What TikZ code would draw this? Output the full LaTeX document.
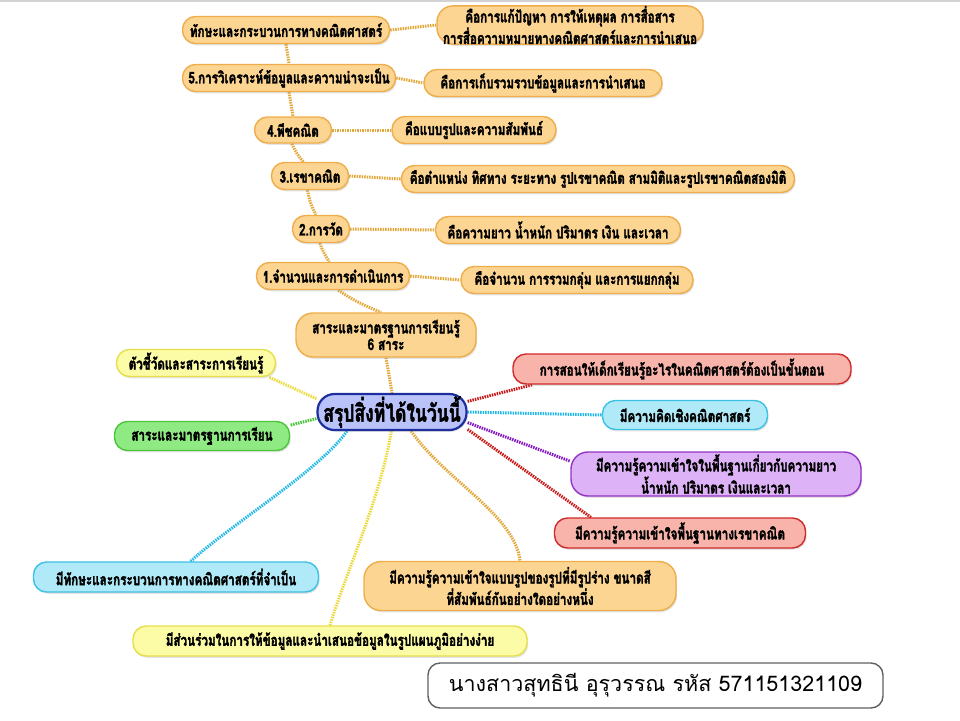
\documentclass[tikz,border=0pt]{standalone}
\usepackage{fontspec}
\newfontfamily\thaifont[Script=Thai]{Loma}
\newfontfamily\thaibold[Script=Thai,FakeStretch=0.73,FakeBold=2]{Loma}
\usetikzlibrary{shadows,backgrounds}
\definecolor{ofill}{HTML}{FCD592}
\definecolor{oline}{HTML}{EEAD4A}
\definecolor{olink}{HTML}{E2A83A}
\definecolor{yfill}{HTML}{FCFBA6}
\definecolor{yline}{HTML}{E6DF4C}
\definecolor{ylink}{HTML}{EADB3E}
\definecolor{gfill}{HTML}{90EA84}
\definecolor{gline}{HTML}{4CC43C}
\definecolor{glink}{HTML}{48C438}
\definecolor{cfill}{HTML}{B0EAF8}
\definecolor{cline}{HTML}{3CC0E4}
\definecolor{clink}{HTML}{22B8E8}
\definecolor{rfill}{HTML}{F8B4AA}
\definecolor{rline}{HTML}{D02A2A}
\definecolor{rlink}{HTML}{C81818}
\definecolor{pfill}{HTML}{DDB2F6}
\definecolor{pline}{HTML}{9234C4}
\definecolor{plink}{HTML}{8418C0}
\definecolor{bfill}{HTML}{B9C3FA}
\definecolor{bline}{HTML}{1E2E9E}
\newcommand\thaib{\thaibold\bfseries\fontsize{16}{15}\selectfont}
\newcommand\thaic{\thaibold\bfseries\fontsize{24}{24}\selectfont}
\newcommand\thaifoot{\thaifont\fontsize{21.5}{24}\selectfont}
\tikzset{
 box/.style={rounded corners=13pt, line width=1.4pt, inner sep=0pt, align=center, font=\thaib,
   drop shadow={shadow xshift=1.2pt, shadow yshift=-1.8pt, opacity=0.22}},
 ob/.style={box, draw=oline, fill=ofill},
 yb/.style={box, draw=yline, fill=yfill},
 gb/.style={box, draw=gline, fill=gfill},
 cb/.style={box, draw=cline, fill=cfill},
 rb/.style={box, draw=rline, fill=rfill},
 pb/.style={box, draw=pline, fill=pfill},
 bb/.style={box, draw=bline, fill=bfill, font=\thaic, line width=2.2pt, rounded corners=17pt},
 footbox/.style={draw=gray!75!black, line width=1.4pt, rounded corners=12pt, fill=white, font=\thaifoot, inner sep=0pt},
 link/.style={line width=3pt, dash pattern=on 1.5pt off 1pt},
}
\begin{document}
\begin{tikzpicture}[x=1pt,y=-1pt]
\useasboundingbox (0,0) rectangle (960,720);
\fill[gray!35] (0,0) rectangle (960,2);
% orange chain
\node[ob, minimum width=207, minimum height=27] (n6) at (286,30) {ทักษะและกระบวนการทางคณิตศาสตร์};
\node[ob, minimum width=266, minimum height=38, rounded corners=16pt] (d6) at (570,25) {คือการแก้ปัญหา การให้เหตุผล การสื่อสาร\\การสื่อความหมายทางคณิตศาสตร์และการนำเสนอ};
\node[ob, minimum width=213, minimum height=27] (n5) at (289,78) {5.การวิเคราะห์ข้อมูลและความน่าจะเป็น};
\node[ob, minimum width=238, minimum height=27] (d5) at (543,83) {คือการเก็บรวมรวบข้อมูลและการนำเสนอ};
\node[ob, minimum width=77, minimum height=26] (n4) at (293,130) {4.พีชคณิต};
\node[ob, minimum width=164, minimum height=27] (d4) at (474,130) {คือแบบรูปและความสัมพันธ์};
\node[ob, minimum width=77, minimum height=27] (n3) at (310,176) {3.เรขาคณิต};
\node[ob, minimum width=393, minimum height=27] (d3) at (598,179) {คือตำแหน่ง ทิศทาง ระยะทาง รูปเรขาคณิต สามมิติและรูปเรขาคณิตสองมิติ};
\node[ob, minimum width=57, minimum height=27] (n2) at (321,229) {2.การวัด};
\node[ob, minimum width=245, minimum height=27] (d2) at (558,230) {คือความยาว น้ำหนัก ปริมาตร เงิน และเวลา};
\node[ob, minimum width=153, minimum height=27] (n1) at (333,276) {1.จำนวนและการดำเนินการ};
\node[ob, minimum width=232, minimum height=27] (d1) at (577,280) {คือจำนวน การรวมกลุ่ม และการแยกกลุ่ม};
\node[ob, minimum width=180, minimum height=44, rounded corners=17pt] (s6) at (386,335) {สาระและมาตรฐานการเรียนรู้\\6 สาระ};
% centre
\node[bb, minimum width=149, minimum height=36] (ctr) at (392,412) {สรุปสิ่งที่ได้ในวันนี้};
% left
\node[yb, minimum width=159, minimum height=27] (y1) at (196,363) {ตัวชี้วัดและสาระการเรียนรู้};
\node[gb, minimum width=175, minimum height=29] (g1) at (202,436) {สาระและมาตรฐานการเรียน};
\node[cb, minimum width=285, minimum height=30] (c1) at (176,577) {มีทักษะและกระบวนการทางคณิตศาสตร์ที่จำเป็น};
\node[yb, minimum width=394, minimum height=30] (y2) at (330,641) {มีส่วนร่วมในการให้ข้อมูลและนำเสนอข้อมูลในรูปแผนภูมิอย่างง่าย};
\node[ob, minimum width=312, minimum height=49, rounded corners=17pt] (o2) at (520,586) {มีความรู้ความเข้าใจแบบรูปของรูปที่มีรูปร่าง ขนาดสี\\ที่สัมพันธ์กันอย่างใดอย่างหนึ่ง};
% right
\node[rb, minimum width=338, minimum height=30] (r1) at (682,369) {การสอนให้เด็กเรียนรู้อะไรในคณิตศาสตร์ต้องเป็นขั้นตอน};
\node[cb, minimum width=165, minimum height=29] (c2) at (685,415) {มีความคิดเชิงคณิตศาสตร์};
\node[pb, minimum width=290, minimum height=44, rounded corners=17pt] (p1) at (716,474) {มีความรู้ความเข้าใจในพื้นฐานเกี่ยวกับความยาว\\น้ำหนัก ปริมาตร เงินและเวลา};
\node[rb, minimum width=251, minimum height=30] (r2) at (680,533) {มีความรู้ความเข้าใจพื้นฐานทางเรขาคณิต};
% footer
\node[footbox, minimum width=455, minimum height=45] (ft) at (655.5,685.5) {นางสาวสุทธินี อุรุวรรณ รหัส 571151321109};
\begin{pgfonlayer}{background}
\draw[link, olink] (n6.south) -- (n5.north);
\draw[link, olink] (n5.south) -- (n4.north);
\draw[link, olink] (n4.-95) to[bend right=8] (n3.115);
\draw[link, olink] (n3.-100) to[bend right=8] (n2.110);
\draw[link, olink] (n2.-95) to[bend right=6] (n1.105);
\draw[link, olink] (n1.-70) to[bend right=6] (s6.102);
\draw[link, olink] (s6.south) -- (ctr.north);
\draw[link, olink] (n6.east) -- (d6.west);
\draw[link, olink] (n5.east) -- (d5.west);
\draw[link, olink] (n4.east) -- (d4.west);
\draw[link, olink] (n3.east) -- (d3.west);
\draw[link, olink] (n2.east) -- (d2.west);
\draw[link, olink] (n1.east) -- (d1.west);
\draw[link, ylink] (ctr.170) -- (y1.-11);
\draw[link, glink] (ctr.185) -- (g1.7);
\draw[link, clink] (ctr.203) .. controls (320,470) and (230,525) .. (c1.47);
\draw[link, ylink] (ctr.-92) .. controls (380,500) and (345,575) .. (y2.north);
\draw[link, olink] (ctr.-45) .. controls (445,480) and (515,515) .. (o2.north);
\draw[link, rlink] (ctr.8) -- (r1.186);
\draw[link, clink] (ctr.east) -- (c2.west);
\draw[link, plink] (ctr.-8) -- (p1.175);
\draw[link, rlink] (ctr.-13) -- (r2.170);
\end{pgfonlayer}
\end{tikzpicture}
\end{document}
